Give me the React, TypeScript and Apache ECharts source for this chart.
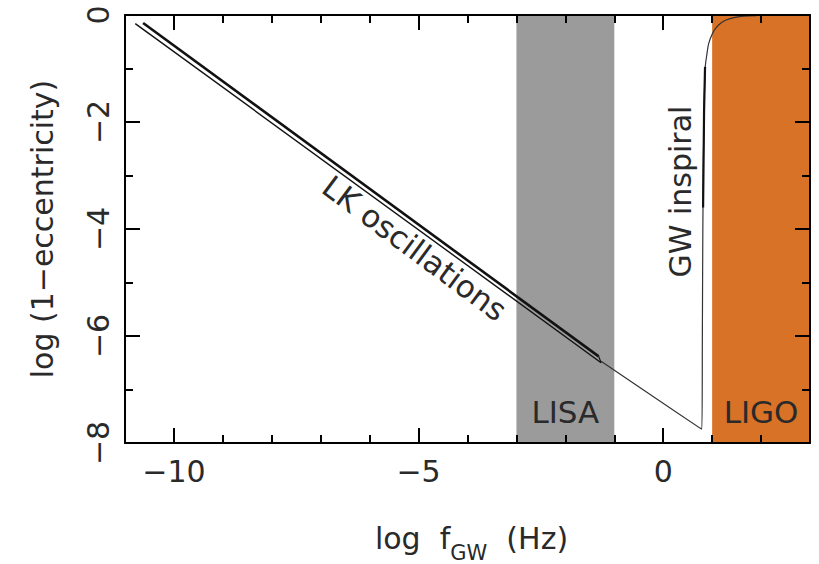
import React, { useEffect, useRef } from "react";
import * as echarts from "echarts";

const xRange = [-11, 3];
const yRange = [-8, 0];
const xMajorTicks = [-10, -5, 0];
const lisaBand = [-3, -1];
const ligoBand = [1, 3];

// LK oscillation double track
const lkUpper: [number, number][] = [
  [-10.63, -0.15],
  [-1.32, -6.38],
];
const lkLower: [number, number][] = [
  [-10.79, -0.16],
  [-1.27, -6.5],
];
const lkEndCap: [number, number][] = [
  [-1.32, -6.38],
  [-1.27, -6.5],
];
// GW-driven decay and inspiral
const inspiral: [number, number][] = [
  [-1.27, -6.47],
  [0.79, -7.74],
  [0.8, -6.0],
  [0.81, -4.0],
  [0.83, -2.0],
  [0.86, -0.97],
  [0.89, -0.75],
  [0.93, -0.53],
  [1.0, -0.36],
  [1.07, -0.25],
  [1.18, -0.15],
  [1.3, -0.09],
  [1.45, -0.05],
  [1.65, -0.02],
  [1.9, -0.01],
];
const inspiralThick: [number, number][] = [
  [0.815, -3.6],
  [0.835, -1.8],
  [0.855, -0.97],
];

const lkLabelPos = [-5.08, -4.36];
const gwLabelPos = [0.35, -3.3];

const FONT = "DejaVu Sans";
const TXT = "#2a2a2a";
const fmt = (v: number) => String(v).replace("-", "\u2212");

export default function App() {
  const ref = useRef<HTMLDivElement>(null);
  useEffect(() => {
    const chart = echarts.init(ref.current!, null, { renderer: "svg" });
    const axisLine = { show: true, onZero: false, lineStyle: { color: "#000", width: 2 } };
    const noLine = { show: false, onZero: false };
    const xBase = { type: "value", min: xRange[0], max: xRange[1], splitLine: { show: false }, z: 10 };
    const tickStyle = { color: "#000", width: 2 };
    const option: any = {
      animation: false,
      backgroundColor: "#fff",
      grid: { left: 125, right: 9, top: 15, bottom: 121, containLabel: false },
      xAxis: [
        {
          ...xBase,
          position: "bottom",
          axisLine,
          axisTick: { inside: true, length: 15, customValues: xMajorTicks, lineStyle: tickStyle },
          axisLabel: { customValues: xMajorTicks, formatter: fmt, fontSize: 30, fontFamily: FONT, color: TXT, margin: 13 },
        },
        {
          ...xBase,
          position: "bottom",
          interval: 1,
          axisLine: noLine,
          axisTick: { inside: true, length: 8, lineStyle: tickStyle },
          axisLabel: { show: false },
        },
        {
          ...xBase,
          position: "top",
          axisLine,
          axisTick: { inside: true, length: 15, customValues: xMajorTicks, lineStyle: tickStyle },
          axisLabel: { show: false },
        },
        {
          ...xBase,
          position: "top",
          interval: 1,
          axisLine: noLine,
          axisTick: { inside: true, length: 8, lineStyle: tickStyle },
          axisLabel: { show: false },
        },
      ],
      yAxis: [
        {
          type: "value", min: yRange[0], max: yRange[1], interval: 2, position: "left", z: 10,
          splitLine: { show: false },
          axisLine,
          axisTick: { inside: true, length: 15, lineStyle: tickStyle },
          minorTick: { show: true, splitNumber: 2, length: 8, lineStyle: tickStyle },
          axisLabel: { rotate: 90, formatter: fmt, fontSize: 30, fontFamily: FONT, color: TXT, margin: 12 },
        },
        {
          type: "value", min: yRange[0], max: yRange[1], interval: 2, position: "right", z: 10,
          splitLine: { show: false },
          axisLine,
          axisTick: { inside: true, length: 15, lineStyle: tickStyle },
          minorTick: { show: true, splitNumber: 2, length: 8, lineStyle: tickStyle },
          axisLabel: { show: false },
        },
      ],
      series: [
        {
          type: "line", data: [], z: 1,
          markArea: {
            silent: true,
            data: [
              [
                { xAxis: lisaBand[0], itemStyle: { color: "#9b9b9b" }, name: "LISA" },
                { xAxis: lisaBand[1] },
              ],
              [
                { xAxis: ligoBand[0], itemStyle: { color: "#d87226" }, name: "LIGO" },
                { xAxis: ligoBand[1] },
              ],
            ],
            label: { show: true, position: "insideBottom", distance: 16, fontSize: 31, fontFamily: FONT, color: TXT },
          },
        },
        { type: "line", data: lkLower, symbol: "none", z: 3, lineStyle: { color: "#111", width: 1.4 } },
        { type: "line", data: lkUpper, symbol: "none", z: 3, lineStyle: { color: "#111", width: 2.6 } },
        { type: "line", data: lkEndCap, symbol: "none", z: 3, lineStyle: { color: "#111", width: 1.2 } },
        { type: "line", data: inspiral, symbol: "none", smooth: 0.3, z: 3, lineStyle: { color: "#333", width: 1.2 } },
        { type: "line", data: inspiralThick, symbol: "none", z: 3, lineStyle: { color: "#111", width: 2.2 } },
      ],
    };
    chart.setOption(option);
    const lk = chart.convertToPixel({ xAxisIndex: 0, yAxisIndex: 0 }, lkLabelPos);
    const gw = chart.convertToPixel({ xAxisIndex: 0, yAxisIndex: 0 }, gwLabelPos);
    const c0 = chart.convertToPixel({ xAxisIndex: 0, yAxisIndex: 0 }, [xRange[0], yRange[0]]);
    const c1 = chart.convertToPixel({ xAxisIndex: 0, yAxisIndex: 0 }, [xRange[1], yRange[1]]);
    const cx = (c0[0] + c1[0]) / 2;
    const cy = (c0[1] + c1[1]) / 2;
    chart.setOption({
      graphic: [
        {
          type: "text", x: lk[0], y: lk[1], rotation: -0.639, z: 20,
          style: { text: "LK oscillations", fontSize: 31, fontFamily: FONT, fill: TXT, align: "center", verticalAlign: "middle" },
        },
        {
          type: "text", x: gw[0], y: gw[1], rotation: Math.PI / 2, z: 20,
          style: { text: "GW inspiral", fontSize: 30, fontFamily: FONT, fill: TXT, align: "center", verticalAlign: "middle" },
        },
        {
          type: "text", x: 42, y: cy, rotation: Math.PI / 2, z: 20,
          style: { text: "log (1\u2212eccentricity)", fontSize: 30, fontFamily: FONT, fill: TXT, align: "center", verticalAlign: "middle" },
        },
        {
          type: "text", x: cx + 4, y: 523, z: 20,
          style: {
            text: "{a|log  f}{s|GW}{a|  (Hz)}",
            align: "center", verticalAlign: "top",
            rich: {
              a: { fontSize: 30, lineHeight: 30, verticalAlign: "top", fontFamily: FONT, fill: TXT, color: TXT },
              s: { fontSize: 21, lineHeight: 21, verticalAlign: "top", fontFamily: FONT, fill: TXT, color: TXT, padding: [19, 0, 0, 0] },
            },
          },
        },
      ],
    });
    return () => chart.dispose();
  }, []);
  return <div ref={ref} style={{ position: "fixed", left: 0, top: 0, width: 819, height: 564 }} />;
}
